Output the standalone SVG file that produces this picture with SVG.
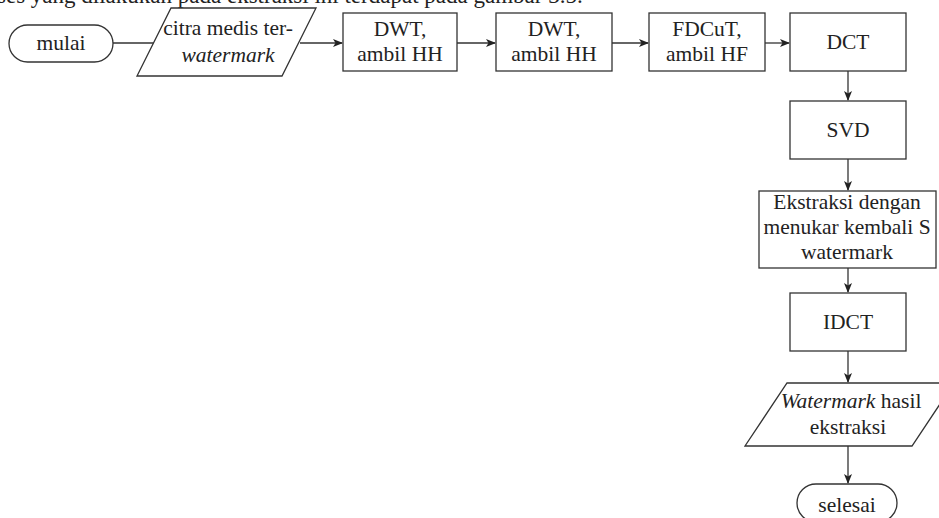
<svg xmlns="http://www.w3.org/2000/svg" width="939" height="518" viewBox="0 0 939 518">
<defs>
<style>
.s{fill:#fff;stroke:#333;stroke-width:1.3}
.t{font-family:"Liberation Serif","Times New Roman",serif;font-size:21.5px;fill:#222;text-anchor:middle}
.c{fill:none;stroke:#333;stroke-width:1.3}
</style>
<marker id="a" viewBox="0 0 10 10" refX="9" refY="5" markerWidth="10" markerHeight="10" markerUnits="userSpaceOnUse" orient="auto">
<path d="M0,1 L10,5 L0,9 L2.5,5 Z" fill="#222"/>
</marker>
</defs>
<rect width="939" height="518" fill="#fff"/>
<text x="-3" y="3" style="font-family:'Liberation Serif','Times New Roman',serif;font-size:23px;fill:#222">ses yang dilakukan pada ekstraksi ini terdapat pada gambar 3.5.</text>
<g id="connectors">
<path class="c" d="M113,43 H156"/>
<path class="c" d="M300,43 H342" marker-end="url(#a)"/>
<path class="c" d="M457,43 H495" marker-end="url(#a)"/>
<path class="c" d="M612,43 H648" marker-end="url(#a)"/>
<path class="c" d="M765,43 H789" marker-end="url(#a)"/>
<path class="c" d="M848,71 V100" marker-end="url(#a)"/>
<path class="c" d="M848,159 V190" marker-end="url(#a)"/>
<path class="c" d="M848,268 V292" marker-end="url(#a)"/>
<path class="c" d="M848,351 V382" marker-end="url(#a)"/>
<path class="c" d="M848,446 V483" marker-end="url(#a)"/>
</g>
<g id="mulai">
<rect class="s" x="9" y="25" width="104" height="37" rx="18.5"/>
<text class="t" x="61" y="50">mulai</text>
</g>
<g id="citra">
<polygon class="s" points="171,8 316,8 282,76 137,76"/>
<text class="t" x="228" y="35">citra medis ter-</text>
<text class="t" x="228" y="62" font-style="italic">watermark</text>
</g>
<g id="dwt1">
<rect class="s" x="343" y="13" width="114" height="58"/>
<text class="t" x="400" y="36">DWT,</text>
<text class="t" x="400" y="61">ambil HH</text>
</g>
<g id="dwt2">
<rect class="s" x="496" y="13" width="116" height="58"/>
<text class="t" x="554" y="36">DWT,</text>
<text class="t" x="554" y="61">ambil HH</text>
</g>
<g id="fdcut">
<rect class="s" x="649" y="13" width="116" height="58"/>
<text class="t" x="707" y="36">FDCuT,</text>
<text class="t" x="707" y="61">ambil HF</text>
</g>
<g id="dct">
<rect class="s" x="790" y="13" width="116" height="58"/>
<text class="t" x="848" y="49">DCT</text>
</g>
<g id="svd">
<rect class="s" x="790" y="101" width="116" height="58"/>
<text class="t" x="848" y="137">SVD</text>
</g>
<g id="ekstraksi">
<rect class="s" x="759" y="191" width="177" height="77"/>
<text class="t" x="847" y="209">Ekstraksi dengan</text>
<text class="t" x="847" y="234">menukar kembali S</text>
<text class="t" x="847" y="259">watermark</text>
</g>
<g id="idct">
<rect class="s" x="790" y="293" width="116" height="58"/>
<text class="t" x="848" y="329">IDCT</text>
</g>
<g id="hasil">
<polygon class="s" points="787,383 954,383 912,446 745,446"/>
<text class="t" x="851" y="408"><tspan font-style="italic">Watermark</tspan> hasil</text>
<text class="t" x="848" y="434">ekstraksi</text>
</g>
<g id="selesai">
<rect class="s" x="797" y="484" width="100" height="38" rx="19"/>
<text class="t" x="847" y="512">selesai</text>
</g>
</svg>
